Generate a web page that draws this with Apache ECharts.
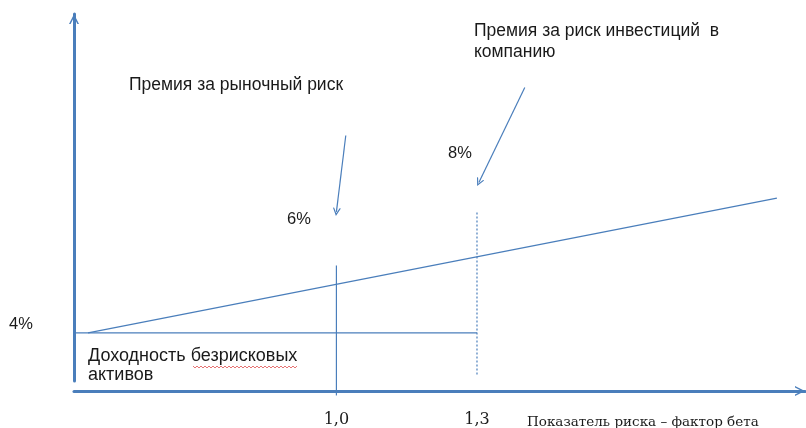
<!DOCTYPE html>
<html>
<head>
<meta charset="utf-8">
<script src="https://cdn.jsdelivr.net/npm/echarts@6/dist/echarts.min.js"></script>
<style>
  html, body { margin: 0; padding: 0; background: #fff; }
  #chart { width: 806px; height: 428px; }
</style>
</head>
<body>
<div id="chart"></div>
<script>
// данные схемы (бета, доходность %)
const betaTicks = [1.0, 1.3];
const smlLine = [[0.47, 4], [1.94, 15.2]];          // линия рынка ценных бумаг
const riskFreeLine = [[0.44, 4], [1.3, 4]];         // безрисковая доходность 4%
const marketBetaLine = [[1.0, 9.6], [1.0, -1.2]];   // бета = 1,0
const companyBetaLine = [[1.3, 14.0], [1.3, 0.5]];  // бета = 1,3 (пунктир)
const marketArrow = [[1.02, 20.4], [1.0, 14.05]];
const companyArrow = [[1.402, 24.4], [1.304, 16.5]];

const blue = '#4a7ebb';
const textColor = '#1a1a1a';
const sans = '"Liberation Sans", Arial, sans-serif';
const serif = '"DejaVu Serif", "Liberation Serif", serif';
const chevron = 'path://M5,0 L10,10 L8.4,10 L5,3.2 L1.6,10 L0,10 Z';

const chart = echarts.init(document.getElementById('chart'));

function segment(data, width, type) {
    return {
        type: 'line',
        data: data,
        symbol: 'none',
        clip: false,
        silent: true,
        lineStyle: { color: blue, width: width, type: type || 'solid' }
    };
}

function label(text, left, top, font, size, lh) {
    return {
        type: 'text',
        left: left,
        top: top,
        style: { text: text, fill: textColor, font: size + 'px ' + font, lineHeight: lh || 20 }
    };
}

// волнистое подчёркивание (проверка орфографии) под словом "безрисковых"
const wavy = [];
for (let x = 0; x <= 104; x += 2) {
    wavy.push([x, (x / 2) % 2 === 0 ? 0 : 2]);
}

const option = {
    animation: false,
    grid: { left: 74, right: 1, top: 14, bottom: 47 },
    xAxis: {
        type: 'value',
        min: 0.44,
        max: 2.0,
        offset: 10,
        splitLine: { show: false },
        axisTick: { show: false },
        axisLine: {
            show: true,
            onZero: false,
            symbol: ['none', chevron],
            symbolSize: [16, 10],
            symbolOffset: [0, -5],
            lineStyle: { color: blue, width: 3 }
        },
        axisLabel: {
            customValues: betaTicks,
            margin: 21,
            color: textColor,
            fontFamily: serif,
            fontSize: 16,
            formatter: v => v.toFixed(1).replace('.', ',')
        }
    },
    yAxis: {
        type: 'value',
        min: 0,
        max: 30.5,
        splitLine: { show: false },
        axisTick: { show: false },
        axisLabel: { show: false },
        axisLine: {
            show: true,
            onZero: false,
            symbol: ['none', chevron],
            symbolSize: [16, 10],
            symbolOffset: [0, -5],
            lineStyle: { color: blue, width: 3 }
        }
    },
    series: [
        segment(smlLine, 1.2),
        segment(riskFreeLine, 1.2),
        segment(marketBetaLine, 1.2),
        segment(companyBetaLine, 1.2, [2, 2]),
        {
            type: 'lines',
            coordinateSystem: 'cartesian2d',
            silent: true,
            symbol: ['none', chevron],
            symbolSize: 8,
            lineStyle: { color: blue, width: 1.2, opacity: 1 },
            data: [{ coords: marketArrow }, { coords: companyArrow }]
        }
    ],
    graphic: [
        label('Премия за рыночный риск', 129, 75, sans, 17.5),
        label('Премия за риск инвестиций  в\nкомпанию', 474, 21, sans, 17.5, 21),
        label('8%', 448, 143, sans, 16.5),
        label('6%', 287, 209, sans, 16.5),
        label('4%', 9, 314, sans, 16.5),
        label('Доходность безрисковых\nактивов', 88, 347, sans, 18, 19),
        label('Показатель риска – фактор бета', 527, 412, serif, 13.5),
        {
            type: 'polyline',
            x: 193,
            y: 366,
            silent: true,
            shape: { points: wavy },
            style: { stroke: '#e05050', lineWidth: 0.8, fill: null }
        }
    ]
};

chart.setOption(option);
</script>
</body>
</html>
